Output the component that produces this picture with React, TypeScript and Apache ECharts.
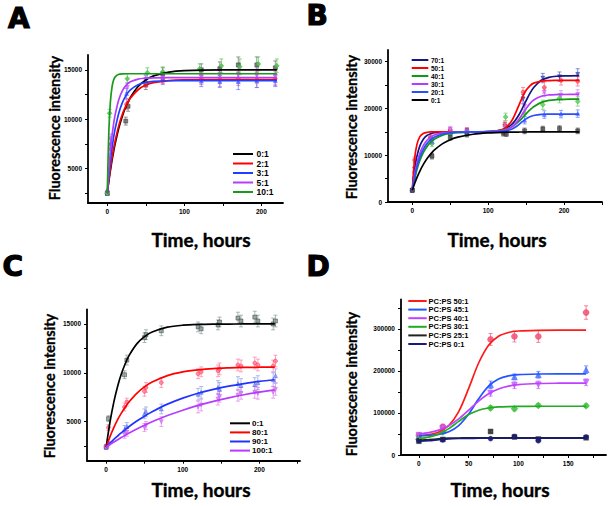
import React, { useEffect, useRef } from 'react';
import * as echarts from 'echarts';

// ---------------- Panel A ----------------
const A_T = [0, 2, 4, 6, 8, 10, 15, 20, 25, 30, 40, 50, 60, 80, 100, 150, 220];
const A_NAMES = ['0:1', '2:1', '3:1', '5:1', '10:1'];
const A_C01 = [2500, 3690, 4760, 5740, 6620, 7410, 9100, 10400, 11410, 12210, 13310, 13970, 14380, 14770, 14920, 14995, 15000];
const A_C21 = [2500, 3810, 4970, 6010, 6920, 7720, 9370, 10580, 11470, 12130, 12980, 13450, 13700, 13910, 13980, 14000, 14000];
const A_C31 = [2500, 4250, 5730, 6980, 8050, 8940, 10630, 11750, 12480, 12970, 13490, 13720, 13820, 13890, 13900, 13900, 13900];
const A_C51 = [2500, 4830, 6700, 8200, 9390, 10350, 11990, 12940, 13470, 13780, 14060, 14150, 14180, 14200, 14200, 14200, 14200];
const A_C101 = [2500, 8670, 11700, 13180, 13910, 14260, 14540, 14590, 14600, 14600, 14600, 14600, 14600, 14600, 14600, 14600, 14600];
const A_P01 = [[0, 2500, 200], [24, 9800, 400], [27, 11300, 500], [50, 13500, 500], [72, 14600, 600], [122, 15000, 600], [146, 15100, 700], [170, 15500, 800], [194, 15500, 800], [218, 15200, 700]];
const A_P21 = [[0, 2500, 200], [4, 7000, 500], [25, 11500, 500], [50, 13700, 500], [72, 14100, 500], [122, 14100, 600], [146, 14000, 700], [170, 14100, 700], [194, 14000, 800], [218, 14100, 700]];
const A_P31 = [[0, 2500, 200], [4, 7500, 500], [25, 12600, 500], [50, 13900, 500], [72, 14000, 500], [122, 13900, 600], [146, 13800, 600], [170, 13800, 800], [194, 13900, 700], [218, 13900, 600]];
const A_P51 = [[0, 2500, 200], [4, 8000, 500], [26, 13200, 500], [50, 14000, 500], [72, 14200, 500], [122, 14300, 700], [146, 14500, 800], [170, 14500, 800], [194, 14400, 800], [218, 14300, 800]];
const A_P101 = [[0, 2500, 200], [3, 10600, 400], [26, 14100, 500], [52, 14700, 500], [72, 14800, 500], [120, 15100, 500], [148, 15400, 700], [172, 15300, 800], [196, 15600, 700], [220, 15400, 700]];
const A_X_LABELS = [0, 100, 200];
const A_X_TICKS = [0, 50, 100, 150, 200];
const A_Y_LABELS = [5000, 10000, 15000];
const A_Y_TICKS = [2500, 5000, 7500, 10000, 12500, 15000];

// ---------------- Panel B ----------------
const B_T = [0, 3, 6, 10, 15, 20, 25, 30, 40, 50, 60, 80, 100, 120, 130, 135, 140, 145, 150, 155, 160, 170, 180, 190, 200, 220];
const B_NAMES = ['70:1', '50:1', '40:1', '30:1', '20:1', '0:1'];
const B_C701 = [2500, 6860, 9700, 12000, 13540, 14290, 14650, 14830, 14960, 14990, 15000, 15010, 15060, 15510, 16430, 17290, 18490, 20010, 21670, 23220, 24490, 26040, 26660, 26890, 26960, 27000];
const B_C501 = [2500, 9100, 12210, 13970, 14710, 14920, 14980, 15000, 15000, 15000, 15000, 15000, 15040, 15590, 17120, 18620, 20500, 22380, 23880, 24850, 25410, 25850, 25960, 25990, 26000, 26000];
const B_C401 = [2500, 4910, 6860, 8880, 10710, 12000, 12900, 13540, 14290, 14650, 14830, 14960, 15050, 15400, 15990, 16500, 17170, 17980, 18850, 19680, 20380, 21300, 21730, 21900, 21960, 22000];
const B_C301 = [2500, 5740, 8140, 10400, 12210, 13310, 13970, 14380, 14770, 14920, 14970, 15000, 15030, 15300, 15950, 16610, 17570, 18750, 19980, 21040, 21820, 22620, 22890, 22970, 22990, 23000];
const B_C201 = [2500, 5260, 7410, 9560, 11410, 12640, 13440, 13970, 14550, 14810, 14920, 14990, 15000, 15140, 15510, 15920, 16500, 17170, 17780, 18220, 18490, 18720, 18780, 18800, 18800, 18800];
const B_C01 = [2500, 3910, 5160, 6620, 8140, 9390, 10400, 11240, 12480, 13310, 13860, 14490, 14770, 14900, 14930, 14950, 14960, 14970, 14970, 14980, 14990, 15000, 15000, 15000, 15000, 15000];
const B_P701 = [[0, 2500, 300], [3, 7000, 500], [24, 13500, 600], [50, 15000, 600], [72, 15200, 600], [122, 16200, 800], [146, 22000, 1000], [172, 26500, 1000], [194, 26800, 1000], [218, 27300, 1200]];
const B_P501 = [[0, 2500, 300], [3, 9000, 600], [24, 13800, 600], [50, 15400, 600], [72, 15300, 600], [122, 16500, 800], [146, 23500, 1000], [174, 24500, 1200], [196, 26000, 1000], [218, 25800, 1000]];
const B_P401 = [[0, 2500, 300], [3, 5000, 500], [26, 12500, 600], [50, 14500, 600], [72, 14800, 600], [123, 18200, 800], [148, 19000, 800], [172, 20800, 1000], [194, 22200, 1000], [218, 21500, 1000]];
const B_P301 = [[0, 2500, 300], [3, 6000, 500], [26, 13000, 600], [50, 15500, 600], [72, 15000, 600], [122, 15800, 800], [148, 20500, 1000], [174, 23500, 1000], [196, 22800, 1000], [218, 23000, 1000]];
const B_P201 = [[0, 2500, 300], [3, 5500, 500], [26, 13000, 600], [50, 14800, 600], [72, 15100, 600], [122, 15500, 700], [148, 17500, 800], [174, 18700, 800], [196, 18800, 800], [218, 18900, 800]];
const B_P01 = [[0, 2500, 300], [26, 9800, 600], [50, 13800, 600], [72, 14500, 600], [120, 14700, 600], [124, 14600, 600], [148, 15200, 600], [172, 15600, 600], [194, 15700, 600], [218, 15200, 600]];
const B_X_LABELS = [0, 100, 200];
const B_X_TICKS = [0, 50, 100, 150, 200, 250];
const B_Y_LABELS = [0, 10000, 20000, 30000];
const B_Y_TICKS = [0, 5000, 10000, 15000, 20000, 25000, 30000];

// ---------------- Panel C ----------------
const C_T = [0, 5, 10, 15, 20, 25, 30, 40, 50, 60, 80, 100, 120, 140, 160, 180, 200, 220];
const C_NAMES = ['0:1', '80:1', '90:1', '100:1'];
const C_C01 = [2400, 4960, 7000, 8620, 9920, 10950, 11780, 12960, 13700, 14180, 14670, 14870, 14950, 14980, 14990, 15000, 15000, 15000];
const C_C801 = [2400, 3470, 4390, 5200, 5890, 6500, 7030, 7900, 8560, 9050, 9710, 10090, 10300, 10430, 10500, 10550, 10570, 10590];
const C_C901 = [2400, 2800, 3180, 3530, 3870, 4190, 4500, 5060, 5560, 6010, 6790, 7410, 7910, 8310, 8640, 8900, 9120, 9290];
const C_C1001 = [2400, 2660, 2910, 3150, 3390, 3610, 3830, 4240, 4620, 4980, 5620, 6170, 6660, 7080, 7440, 7750, 8020, 8260];
const C_P01 = [[0, 2400, 200], [3, 5300, 300], [24, 9800, 400], [27, 11300, 500], [50, 13600, 500], [52, 13900, 500], [72, 14300, 500], [120, 14700, 500], [124, 14500, 500], [146, 14900, 500], [148, 15200, 500], [172, 15600, 600], [176, 15300, 600], [194, 15700, 600], [198, 15300, 600], [218, 15000, 600], [221, 15300, 600]];
const C_P801 = [[0, 2400, 200], [3, 4400, 300], [24, 6500, 400], [27, 7000, 400], [50, 8100, 500], [52, 8500, 500], [72, 9000, 500], [120, 9900, 500], [124, 10100, 500], [146, 10200, 600], [148, 10400, 600], [172, 10800, 600], [176, 10700, 600], [194, 11000, 600], [198, 10800, 600], [218, 10700, 600], [221, 11200, 600]];
const C_P901 = [[0, 2400, 200], [3, 2900, 300], [24, 4200, 400], [27, 4500, 400], [50, 5800, 500], [52, 6000, 500], [72, 6300, 500], [120, 7800, 600], [124, 8000, 600], [146, 8500, 700], [148, 8300, 700], [172, 8900, 700], [176, 8700, 700], [194, 8800, 700], [198, 9000, 700], [218, 9300, 700], [221, 9700, 700]];
const C_P1001 = [[0, 2400, 200], [3, 2700, 300], [24, 3700, 400], [27, 3900, 400], [50, 4400, 400], [52, 4600, 400], [72, 5000, 500], [120, 6500, 600], [124, 6700, 600], [146, 7300, 600], [148, 7600, 600], [172, 7700, 600], [176, 7900, 600], [194, 8000, 600], [198, 7900, 600], [218, 8000, 600], [221, 8300, 600]];
const C_X_LABELS = [0, 100, 200];
const C_X_TICKS = [0, 50, 100, 150, 200, 250];
const C_Y_LABELS = [5000, 10000, 15000];
const C_Y_TICKS = [2500, 5000, 7500, 10000, 12500, 15000];

// ---------------- Panel D ----------------
const D_T = [0, 10, 20, 30, 40, 50, 60, 70, 80, 90, 100, 120, 140, 168];
const D_NAMES = ['PC:PS 50:1', 'PC:PS 45:1', 'PC:PS 40:1', 'PC:PS 30:1', 'PC:PS 25:1', 'PC:PS 0:1'];
const D_C501 = [46400, 48700, 54800, 70200, 103200, 158400, 218900, 261200, 282600, 291500, 295000, 296700, 297000, 297000];
const D_C451 = [45500, 46500, 48900, 55200, 69900, 97400, 133600, 163700, 180700, 188300, 191200, 192700, 193000, 193000];
const D_C401 = [50200, 53300, 59300, 69600, 85800, 106800, 128200, 145600, 157100, 163800, 167400, 170100, 170800, 171000];
const D_C301 = [39400, 42700, 49900, 62800, 80000, 96100, 106600, 111900, 114300, 115300, 115700, 116000, 116000, 116000];
const D_C251 = [35000, 36500, 38500, 40000, 40500, 40800, 41000, 41000, 41000, 41000, 41000, 41000, 41000, 41000];
const D_C01 = [33000, 34000, 36500, 38500, 39300, 39600, 39800, 39800, 39800, 39800, 39800, 39800, 39800, 39800];
const D_P501 = [[0, 47000, 5000], [24, 67000, 6000], [72, 275000, 14000], [96, 282000, 13000], [120, 282000, 14000], [168, 339000, 16000]];
const D_P451 = [[0, 45000, 4000], [24, 58000, 5000], [72, 167000, 9000], [96, 186000, 7000], [120, 191000, 8000], [168, 203000, 9000]];
const D_P401 = [[0, 47000, 4000], [24, 64000, 5000], [72, 147000, 7000], [96, 166000, 8000], [120, 167000, 9000], [168, 173000, 8000]];
const D_P301 = [[0, 37000, 3000], [24, 55000, 4000], [72, 112000, 5000], [96, 110000, 5000], [120, 118000, 4000], [168, 117000, 4000]];
const D_P251 = [[0, 33000, 3000], [24, 37000, 3000], [72, 56000, 3000], [96, 43000, 3000], [120, 38000, 3000], [168, 41000, 3000]];
const D_P01 = [[0, 34000, 3000], [24, 36000, 3000], [72, 39000, 3000], [96, 44000, 3000], [120, 34000, 3000], [168, 43000, 3000]];
const D_X_LABELS = [0, 50, 100, 150];
const D_X_TICKS = [0, 25, 50, 75, 100, 125, 150, 175];
const D_Y_LABELS = [0, 100000, 200000, 300000];
const D_Y_TICKS = [0, 50000, 100000, 150000, 200000, 250000, 300000, 350000];

const Y_TITLE = 'Fluorescence intensity';
const X_TITLE = 'Time, hours';

type SeriesDef = {
  name: string;
  line: string;
  fill: string;
  symbol: string;
  rotate?: number;
  size: number;
  values: number[];
  points: number[][];
};

type Panel = {
  letter: string;
  letterPos: [number, number];
  grid: { left: number; top: number; width: number; height: number };
  xRange: [number, number];
  yRange: [number, number];
  xLabels: number[];
  xTicks: number[];
  yLabels: number[];
  yTicks: number[];
  T: number[];
  series: SeriesDef[];
  legend: { x1: number; x2: number; tx: number; y0: number; dy: number; fs: number };
  yTitle: [number, number];
  xTitle: [number, number];
};

const panels: Panel[] = [
  {
    letter: 'A', letterPos: [8, 18.5],
    grid: { left: 88, top: 55, width: 195, height: 148 },
    xRange: [-25, 228], yRange: [1500, 16500],
    xLabels: A_X_LABELS, xTicks: A_X_TICKS, yLabels: A_Y_LABELS, yTicks: A_Y_TICKS,
    T: A_T,
    series: [
      { name: A_NAMES[0], line: '#000000', fill: '#6b6b6b', symbol: 'rect', size: 4, values: A_C01, points: A_P01 },
      { name: A_NAMES[1], line: '#ff0000', fill: '#ff5c8a', symbol: 'circle', size: 4, values: A_C21, points: A_P21 },
      { name: A_NAMES[2], line: '#1f3fff', fill: '#5a78ff', symbol: 'triangle', size: 4, values: A_C31, points: A_P31 },
      { name: A_NAMES[3], line: '#b43cff', fill: '#d070ff', symbol: 'triangle', rotate: 180, size: 4, values: A_C51, points: A_P51 },
      { name: A_NAMES[4], line: '#1a9a1a', fill: '#50c850', symbol: 'diamond', size: 5, values: A_C101, points: A_P101 },
    ],
    legend: { x1: 233, x2: 253, tx: 256.5, y0: 154, dy: 9.5, fs: 8.5 },
    yTitle: [54, 128], xTitle: [201, 239],
  },
  {
    letter: 'B', letterPos: [306.5, 15.5],
    grid: { left: 388, top: 50, width: 214, height: 152 },
    xRange: [-32, 250], yRange: [0, 32500],
    xLabels: B_X_LABELS, xTicks: B_X_TICKS, yLabels: B_Y_LABELS, yTicks: B_Y_TICKS,
    T: B_T,
    series: [
      { name: B_NAMES[0], line: '#151585', fill: '#5060c0', symbol: 'triangle', rotate: 180, size: 4, values: B_C701, points: B_P701 },
      { name: B_NAMES[1], line: '#ff0000', fill: '#ff6080', symbol: 'circle', size: 4, values: B_C501, points: B_P501 },
      { name: B_NAMES[2], line: '#119911', fill: '#60d060', symbol: 'diamond', size: 5, values: B_C401, points: B_P401 },
      { name: B_NAMES[3], line: '#b43cff', fill: '#d080ff', symbol: 'triangle', rotate: 180, size: 4, values: B_C301, points: B_P301 },
      { name: B_NAMES[4], line: '#2a4dff', fill: '#6080ff', symbol: 'triangle', size: 4, values: B_C201, points: B_P201 },
      { name: B_NAMES[5], line: '#000000', fill: '#505050', symbol: 'rect', size: 4, values: B_C01, points: B_P01 },
    ],
    legend: { x1: 411.7, x2: 428.3, tx: 431, y0: 60, dy: 8, fs: 6.5 },
    yTitle: [351, 127], xTitle: [497, 239],
  },
  {
    letter: 'C', letterPos: [2.5, 266.7],
    grid: { left: 87, top: 309.3, width: 213, height: 151.4 },
    xRange: [-25, 253], yRange: [1000, 16500],
    xLabels: C_X_LABELS, xTicks: C_X_TICKS, yLabels: C_Y_LABELS, yTicks: C_Y_TICKS,
    T: C_T,
    series: [
      { name: C_NAMES[0], line: '#000000', fill: '#8a9a9a', symbol: 'rect', size: 4, values: C_C01, points: C_P01 },
      { name: C_NAMES[1], line: '#ff0000', fill: '#ff7aa0', symbol: 'circle', size: 4, values: C_C801, points: C_P801 },
      { name: C_NAMES[2], line: '#2233ff', fill: '#8f9fe0', symbol: 'triangle', size: 4, values: C_C901, points: C_P901 },
      { name: C_NAMES[3], line: '#b43cff', fill: '#e080e8', symbol: 'triangle', rotate: 180, size: 4, values: C_C1001, points: C_P1001 },
    ],
    legend: { x1: 230, x2: 250, tx: 252, y0: 423.3, dy: 9.1, fs: 8 },
    yTitle: [49, 386], xTitle: [201, 489],
  },
  {
    letter: 'D', letterPos: [306.5, 266],
    grid: { left: 401, top: 299.5, width: 205, height: 155.5 },
    xRange: [-18, 188], yRange: [0, 370000],
    xLabels: D_X_LABELS, xTicks: D_X_TICKS, yLabels: D_Y_LABELS, yTicks: D_Y_TICKS,
    T: D_T,
    series: [
      { name: D_NAMES[0], line: '#ff1a1a', fill: '#f0507a', symbol: 'circle', size: 6, values: D_C501, points: D_P501 },
      { name: D_NAMES[1], line: '#2255ff', fill: '#5070ff', symbol: 'triangle', size: 6, values: D_C451, points: D_P451 },
      { name: D_NAMES[2], line: '#c040ff', fill: '#c060ff', symbol: 'triangle', rotate: 180, size: 6, values: D_C401, points: D_P401 },
      { name: D_NAMES[3], line: '#22aa22', fill: '#40c040', symbol: 'diamond', size: 7, values: D_C301, points: D_P301 },
      { name: D_NAMES[4], line: '#222222', fill: '#333333', symbol: 'rect', size: 5, values: D_C251, points: D_P251 },
      { name: D_NAMES[5], line: '#1a1a7a', fill: '#1a1a7a', symbol: 'circle', size: 5, values: D_C01, points: D_P01 },
    ],
    legend: { x1: 408.3, x2: 426.7, tx: 428.5, y0: 301, dy: 8.6, fs: 7.5 },
    yTitle: [351, 384], xTitle: [500, 489],
  },
];

const TICK_FONT = 'Liberation Sans, Arial, sans-serif';
const TITLE_FONT = 'Lato, Open Sans, sans-serif';

function errRenderer(color: string) {
  return (_params: any, api: any) => {
    const x = api.value(0);
    const y = api.value(1);
    const e = api.value(2);
    const top = api.coord([x, y + e]);
    const bot = api.coord([x, y - e]);
    const cw = 2;
    const style = { stroke: color, lineWidth: 0.7 };
    return {
      type: 'group',
      children: [
        { type: 'line', shape: { x1: top[0], y1: top[1], x2: bot[0], y2: bot[1] }, style },
        { type: 'line', shape: { x1: top[0] - cw, y1: top[1], x2: top[0] + cw, y2: top[1] }, style },
        { type: 'line', shape: { x1: bot[0] - cw, y1: bot[1], x2: bot[0] + cw, y2: bot[1] }, style },
      ],
    };
  };
}

function buildOption() {
  const grid: any[] = [];
  const xAxis: any[] = [];
  const yAxis: any[] = [];
  const series: any[] = [];
  const graphic: any[] = [];

  panels.forEach((p, i) => {
    grid.push({ ...p.grid, containLabel: false });
    const axisLine = { onZero: false, lineStyle: { color: '#000', width: 1.8 } };
    const labelStyle = {
      fontSize: 6.5, fontWeight: 'bold', color: '#000', fontFamily: TICK_FONT,
      formatter: (v: number) => String(v),
    };
    xAxis.push({
      type: 'value', gridIndex: i, min: p.xRange[0], max: p.xRange[1],
      axisLine, splitLine: { show: false },
      axisTick: { show: true, inside: false, length: 3, lineStyle: { color: '#000', width: 1 }, customValues: p.xTicks },
      axisLabel: { ...labelStyle, margin: 5, customValues: p.xLabels },
    });
    yAxis.push({
      type: 'value', gridIndex: i, min: p.yRange[0], max: p.yRange[1],
      axisLine, splitLine: { show: false },
      axisTick: { show: true, inside: false, length: 3, lineStyle: { color: '#000', width: 1 }, customValues: p.yTicks },
      axisLabel: { ...labelStyle, margin: 6, customValues: p.yLabels },
    });

    p.series.forEach((s) => {
      series.push({
        type: 'custom', xAxisIndex: i, yAxisIndex: i, z: 1,
        renderItem: errRenderer(s.fill),
        encode: { x: 0, y: 1 },
        data: s.points,
        silent: true,
      });
      series.push({
        type: 'scatter', xAxisIndex: i, yAxisIndex: i, z: 2,
        symbol: s.symbol, symbolSize: s.size, symbolRotate: s.rotate || 0,
        itemStyle: { color: s.fill, opacity: 0.85, borderColor: s.line, borderWidth: 0.4 },
        data: s.points.map((pt) => [pt[0], pt[1]]),
        silent: true,
      });
      series.push({
        type: 'line', name: s.name, xAxisIndex: i, yAxisIndex: i, z: 3,
        showSymbol: false, smooth: 0.3,
        lineStyle: { color: s.line, width: 1.7 },
        itemStyle: { color: s.line },
        data: p.T.map((t, k) => [t, s.values[k]]),
        silent: true,
      });
    });

    // legend
    p.series.forEach((s, k) => {
      const y = p.legend.y0 + k * p.legend.dy;
      graphic.push({
        type: 'line', z: 10,
        shape: { x1: p.legend.x1, y1: y, x2: p.legend.x2, y2: y },
        style: { stroke: s.line, lineWidth: 2 },
      });
      graphic.push({
        type: 'text', z: 10, x: p.legend.tx, y,
        style: {
          text: s.name, fill: '#000', font: `bold ${p.legend.fs}px ${TICK_FONT}`,
          textAlign: 'left', textVerticalAlign: 'middle',
        },
      });
    });

    // panel letter
    graphic.push({
      type: 'text', x: p.letterPos[0], y: p.letterPos[1],
      style: {
        text: p.letter, fill: '#000', stroke: '#000', lineWidth: 1.2,
        font: `bold 28px DejaVu Sans, sans-serif`,
        textAlign: 'left', textVerticalAlign: 'middle',
      },
    });
    // axis titles
    graphic.push({
      type: 'text', x: p.yTitle[0], y: p.yTitle[1], rotation: Math.PI / 2,
      style: {
        text: Y_TITLE, fill: '#000', stroke: '#000', lineWidth: 0.3,
        font: `bold 14.5px ${TITLE_FONT}`,
        textAlign: 'center', textVerticalAlign: 'middle',
      },
    });
    graphic.push({
      type: 'text', x: p.xTitle[0], y: p.xTitle[1],
      style: {
        text: X_TITLE, fill: '#000', stroke: '#000', lineWidth: 0.4,
        font: `bold 19px ${TITLE_FONT}`,
        textAlign: 'center', textVerticalAlign: 'middle',
      },
    });
  });

  return {
    animation: false,
    backgroundColor: '#ffffff',
    grid, xAxis, yAxis, series, graphic,
  };
}

export default function App() {
  const ref = useRef<HTMLDivElement>(null);
  useEffect(() => {
    const chart = echarts.init(ref.current as HTMLDivElement, null, { renderer: 'svg' });
    chart.setOption(buildOption() as any);
    return () => chart.dispose();
  }, []);
  return (
    <div
      ref={ref}
      style={{ position: 'absolute', left: 0, top: 0, width: 609, height: 506, background: '#fff' }}
    />
  );
}
